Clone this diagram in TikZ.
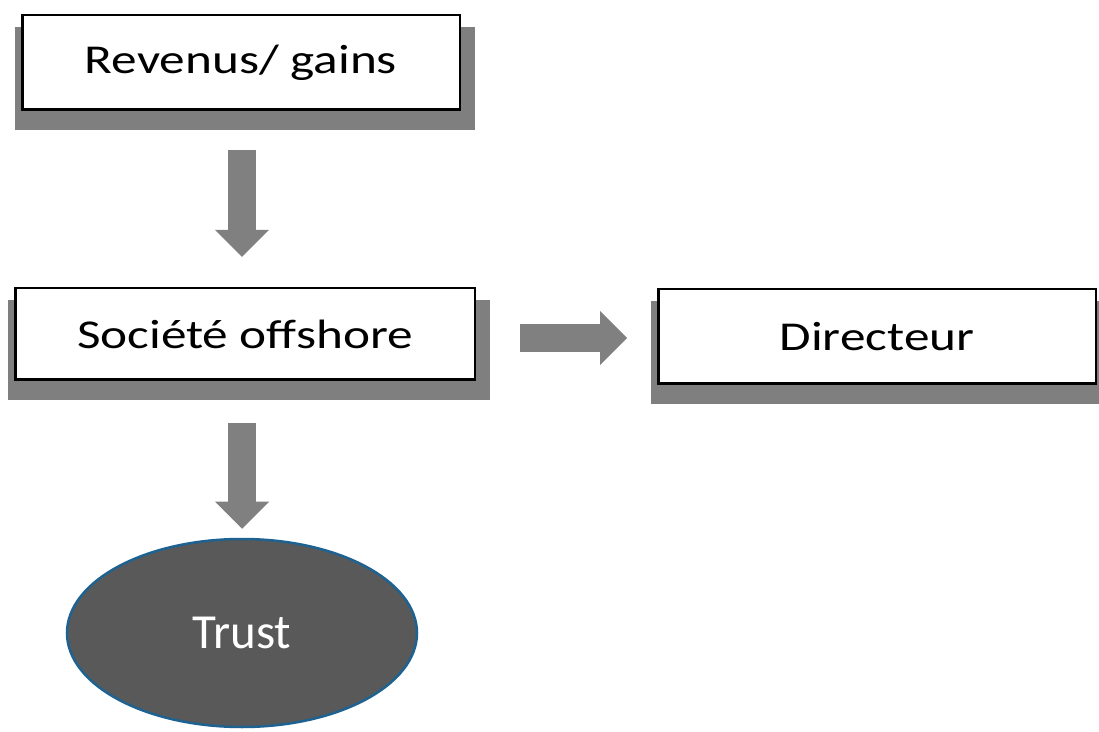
\documentclass[tikz,border=0pt]{standalone}
\usepackage{fontspec}
\setmainfont{Carlito}
\newfontfamily\boxfont[FakeStretch=1.25]{Carlito}
\usetikzlibrary{calc,arrows.meta,backgrounds,shapes.geometric}
\definecolor{shadowgray}{RGB}{127,127,127}
\definecolor{arrowgray}{RGB}{128,128,128}
\definecolor{trustfill}{RGB}{89,89,89}
\definecolor{trustborder}{RGB}{30,98,145}
\tikzset{
  box/.style={draw=black, line width=2.5pt, fill=white, rectangle, inner sep=0pt,
    font=\boxfont\fontsize{41}{49}\selectfont},
  boxshadow/.style={fill=shadowgray},
  blockarrow/.style={draw=arrowgray, line width=28pt,
    -{Triangle[width=54pt,length=27pt,line width=0pt,fill=arrowgray]}},
  trustnode/.style={ellipse, draw=trustborder, line width=2.5pt, fill=trustfill,
    text=white, inner sep=0pt, font=\fontsize{49}{58}\selectfont}
}
\begin{document}
\begin{tikzpicture}[x=1pt,y=1pt]
\useasboundingbox (0,0) rectangle (1099,731);
\node[box, minimum width=437.5pt, minimum height=94.5pt] (rev) at (241,668.5) {Revenus/ gains};
\node[box, minimum width=459.5pt, minimum height=91.5pt] (soc) at (245,397) {Société offshore};
\node[box, minimum width=437.5pt, minimum height=94.5pt] (dir) at (877,394.5) {Directeur};
\node[trustnode, minimum width=350pt, minimum height=188pt] (trust) at (242,98) {Trust};
\begin{scope}[on background layer]
  \foreach \n in {rev,soc,dir}{
    \fill[boxshadow] ($(\n.south west)+(-6,-19)$) rectangle ($(\n.north east)+(14,-13)$);
  }
\end{scope}
\draw[blockarrow] ($(trust.north |- rev.south)+(0,-39)$) -- ($(trust.north |- soc.north)+(0,30)$);
\draw[blockarrow] ($(soc.east)+(44,-4)$) -- ($(dir.west |- soc.east)+(-30,-4)$);
\draw[blockarrow] ($(trust.north |- soc.south)+(0,-42)$) -- ($(trust.north)+(0,9)$);
\end{tikzpicture}
\end{document}
